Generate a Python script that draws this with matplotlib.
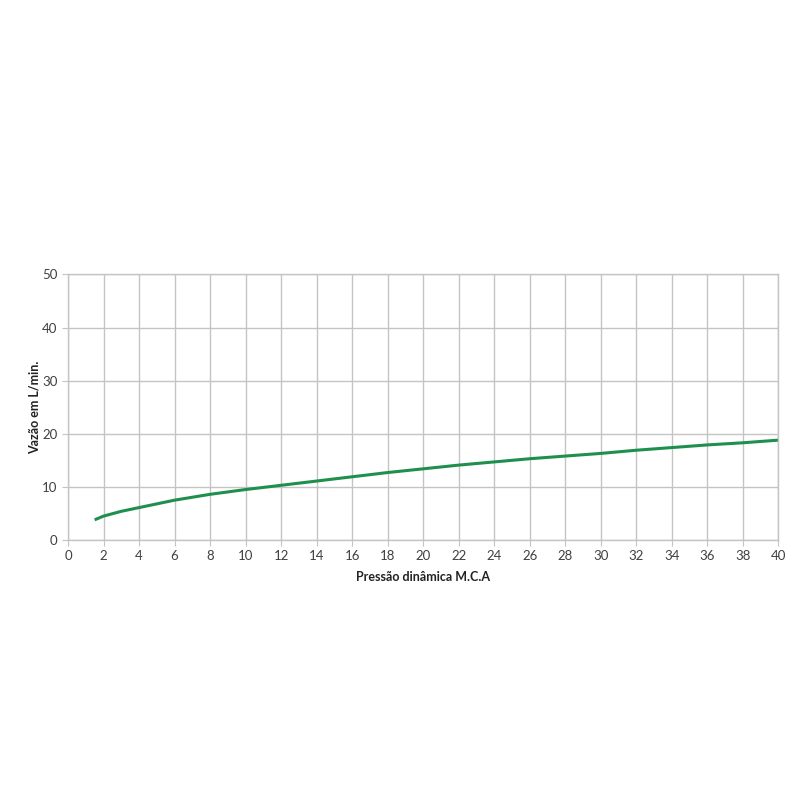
import matplotlib
matplotlib.use("Agg")
import matplotlib.pyplot as plt

# curve
pressao = [1.5, 2, 3, 4, 5, 6, 8, 10, 12, 14, 16, 18, 20, 22, 24, 26, 28, 30, 32, 34, 36, 38, 40]
vazao = [3.8, 4.5, 5.4, 6.1, 6.8, 7.5, 8.6, 9.5, 10.3, 11.1, 11.9, 12.7, 13.4, 14.1, 14.7, 15.3, 15.8, 16.3, 16.9, 17.4, 17.9, 18.3, 18.8]

x_ticks = list(range(0, 41, 2))
y_ticks = [0, 10, 20, 30, 40, 50]

plt.rcParams['font.family'] = ['Lato', 'DejaVu Sans']

fig = plt.figure(figsize=(8, 8), dpi=100)
ax = fig.add_axes([0.085, 0.325, 0.888, 0.332])

ax.plot(pressao, vazao, color='#1f8f4e', linewidth=2.2, solid_capstyle='butt')

ax.set_xlim(0, 40)
ax.set_ylim(0, 50)
ax.set_xticks(x_ticks)
ax.set_yticks(y_ticks)
ax.grid(True, color='#c4c4c4', linewidth=1.0)
ax.set_axisbelow(True)
for s in ax.spines.values():
    s.set_color('#c4c4c4')
    s.set_linewidth(1.0)
ax.tick_params(axis='both', colors='#c4c4c4', labelcolor='#404040', labelsize=9.5, length=4)

ax.set_xlabel('Pressão dinâmica M.C.A', fontsize=9, fontweight='bold', color='#222222', labelpad=6)
ax.set_ylabel('Vazão em L/min.', fontsize=9, fontweight='bold', color='#222222', labelpad=1)

fig.savefig('out.png', dpi=100, facecolor='white')
